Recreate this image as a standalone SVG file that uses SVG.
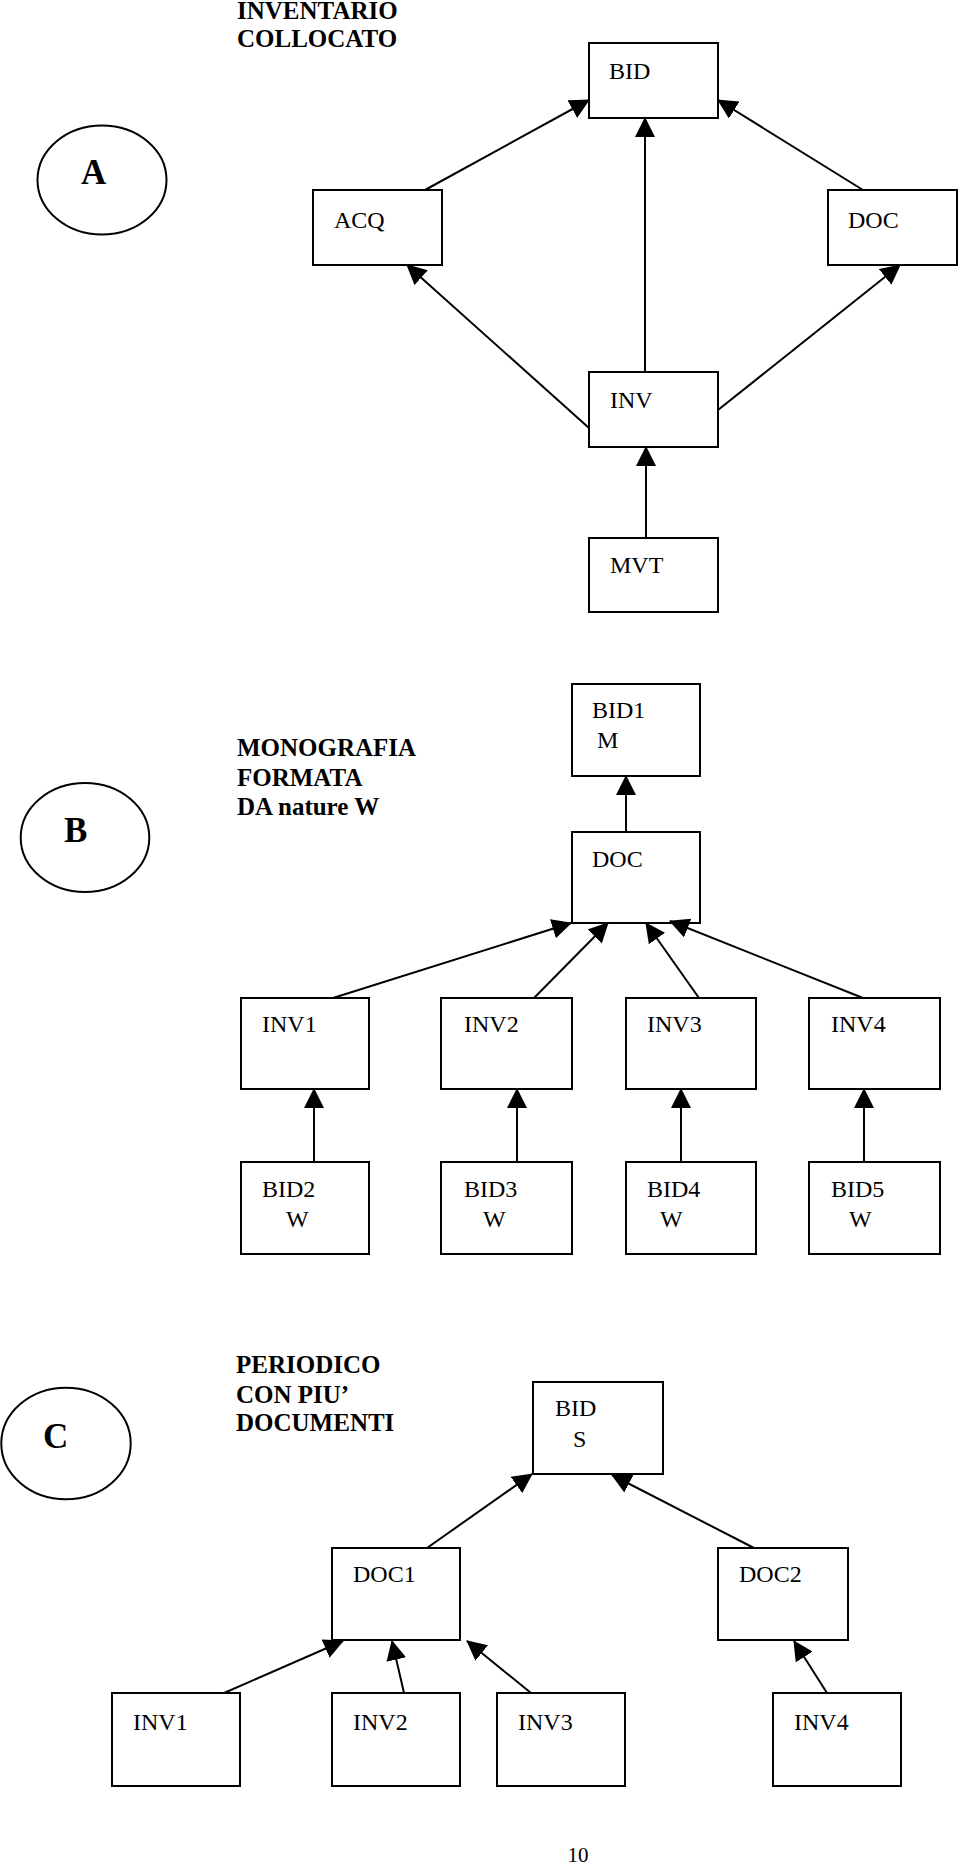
<svg xmlns="http://www.w3.org/2000/svg" width="960" height="1866" viewBox="0 0 960 1866">
<style>
.box{fill:#fff;stroke:#000;stroke-width:2}
.ell{fill:#fff;stroke:#000;stroke-width:2}
.lbl{font-family:"Liberation Serif","Times New Roman",serif;font-size:24px;fill:#000}
.ttl{font-family:"Liberation Serif","Times New Roman",serif;font-size:25px;font-weight:bold;fill:#000}
.big{font-family:"Liberation Serif","Times New Roman",serif;font-size:35px;font-weight:bold;fill:#000}
.con line{stroke:#000;stroke-width:2;marker-end:url(#ah)}
</style>
<defs>
<marker id="ah" markerUnits="userSpaceOnUse" markerWidth="20" markerHeight="20" refX="19" refY="10" orient="auto" viewBox="0 0 20 20">
<path d="M0,0 L20,10 L0,20 z" fill="#000"/>
</marker>
</defs>
<rect width="960" height="1866" fill="#fff"/>

<!-- Section A -->
<g id="titleA"><text class="ttl" x="237" y="19">INVENTARIO</text><text class="ttl" x="237" y="47">COLLOCATO</text></g>
<g id="A"><ellipse class="ell" cx="102" cy="180" rx="64.5" ry="54.5"/><text class="big" x="81" y="184">A</text></g>
<g id="A_BID"><rect class="box" x="589" y="43" width="129" height="75"/><text class="lbl" x="609" y="79">BID</text></g>
<g id="A_ACQ"><rect class="box" x="313" y="190" width="129" height="75"/><text class="lbl" x="334" y="228">ACQ</text></g>
<g id="A_DOC"><rect class="box" x="828" y="190" width="129" height="75"/><text class="lbl" x="848" y="228">DOC</text></g>
<g id="A_INV"><rect class="box" x="589" y="372" width="129" height="75"/><text class="lbl" x="610" y="408">INV</text></g>
<g id="A_MVT"><rect class="box" x="589" y="538" width="129" height="74"/><text class="lbl" x="610" y="573">MVT</text></g>

<!-- Section B -->
<g id="titleB"><text class="ttl" x="237" y="756">MONOGRAFIA</text><text class="ttl" x="237" y="786">FORMATA</text><text class="ttl" x="237" y="815">DA nature W</text></g>
<g id="B"><ellipse class="ell" cx="85" cy="837.5" rx="64.3" ry="54.5"/><text class="big" x="64" y="842">B</text></g>
<g id="B_BID1"><rect class="box" x="572" y="684" width="128" height="92"/><text class="lbl" x="592" y="718">BID1</text><text class="lbl" x="597" y="748">M</text></g>
<g id="B_DOC"><rect class="box" x="572" y="832" width="128" height="91"/><text class="lbl" x="592" y="867">DOC</text></g>
<g id="B_INV1"><rect class="box" x="241" y="998" width="128" height="91"/><text class="lbl" x="262" y="1032">INV1</text></g>
<g id="B_INV2"><rect class="box" x="441" y="998" width="131" height="91"/><text class="lbl" x="464" y="1032">INV2</text></g>
<g id="B_INV3"><rect class="box" x="626" y="998" width="130" height="91"/><text class="lbl" x="647" y="1032">INV3</text></g>
<g id="B_INV4"><rect class="box" x="809" y="998" width="131" height="91"/><text class="lbl" x="831" y="1032">INV4</text></g>
<g id="B_BID2"><rect class="box" x="241" y="1162" width="128" height="92"/><text class="lbl" x="262" y="1197">BID2</text><text class="lbl" x="286" y="1227">W</text></g>
<g id="B_BID3"><rect class="box" x="441" y="1162" width="131" height="92"/><text class="lbl" x="464" y="1197">BID3</text><text class="lbl" x="483" y="1227">W</text></g>
<g id="B_BID4"><rect class="box" x="626" y="1162" width="130" height="92"/><text class="lbl" x="647" y="1197">BID4</text><text class="lbl" x="660" y="1227">W</text></g>
<g id="B_BID5"><rect class="box" x="809" y="1162" width="131" height="92"/><text class="lbl" x="831" y="1197">BID5</text><text class="lbl" x="849" y="1227">W</text></g>

<!-- Section C -->
<g id="titleC"><text class="ttl" x="236" y="1373">PERIODICO</text><text class="ttl" x="236" y="1403">CON PIU’</text><text class="ttl" x="236" y="1431">DOCUMENTI</text></g>
<g id="C"><ellipse class="ell" cx="66" cy="1443.5" rx="64.7" ry="55.8"/><text class="big" x="43" y="1448">C</text></g>
<g id="C_BID"><rect class="box" x="533" y="1382" width="130" height="92"/><text class="lbl" x="555" y="1416">BID</text><text class="lbl" x="573" y="1447">S</text></g>
<g id="C_DOC1"><rect class="box" x="332" y="1548" width="128" height="92"/><text class="lbl" x="353" y="1582">DOC1</text></g>
<g id="C_DOC2"><rect class="box" x="718" y="1548" width="130" height="92"/><text class="lbl" x="739" y="1582">DOC2</text></g>
<g id="C_INV1"><rect class="box" x="112" y="1693" width="128" height="93"/><text class="lbl" x="133" y="1730">INV1</text></g>
<g id="C_INV2"><rect class="box" x="332" y="1693" width="128" height="93"/><text class="lbl" x="353" y="1730">INV2</text></g>
<g id="C_INV3"><rect class="box" x="497" y="1693" width="128" height="93"/><text class="lbl" x="518" y="1730">INV3</text></g>
<g id="C_INV4"><rect class="box" x="773" y="1693" width="128" height="93"/><text class="lbl" x="794" y="1730">INV4</text></g>

<g id="pagenum"><text x="578" y="1862" text-anchor="middle" font-family="Liberation Serif, Times New Roman, serif" font-size="21">10</text></g>

<g id="connectors" class="con">
<line x1="425" y1="190" x2="589" y2="100"/>
<line x1="863" y1="190" x2="718" y2="100"/>
<line x1="645" y1="372" x2="645" y2="118"/>
<line x1="589" y1="428" x2="407" y2="265"/>
<line x1="718" y1="410" x2="900" y2="265"/>
<line x1="646" y1="538" x2="646" y2="447"/>

<line x1="626" y1="832" x2="626" y2="776"/>
<line x1="333" y1="998" x2="571" y2="923"/>
<line x1="534" y1="998" x2="608" y2="923"/>
<line x1="699" y1="998" x2="646" y2="923"/>
<line x1="863" y1="998" x2="670" y2="921"/>
<line x1="314" y1="1162" x2="314" y2="1089"/>
<line x1="517" y1="1162" x2="517" y2="1089"/>
<line x1="681" y1="1162" x2="681" y2="1089"/>
<line x1="864" y1="1162" x2="864" y2="1089"/>

<line x1="427" y1="1548" x2="532" y2="1474"/>
<line x1="754" y1="1548" x2="612" y2="1475"/>
<line x1="224" y1="1693" x2="343" y2="1641"/>
<line x1="404" y1="1693" x2="392" y2="1641"/>
<line x1="531" y1="1693" x2="467" y2="1641"/>
<line x1="827" y1="1693" x2="794" y2="1641"/>
</g>
</svg>
